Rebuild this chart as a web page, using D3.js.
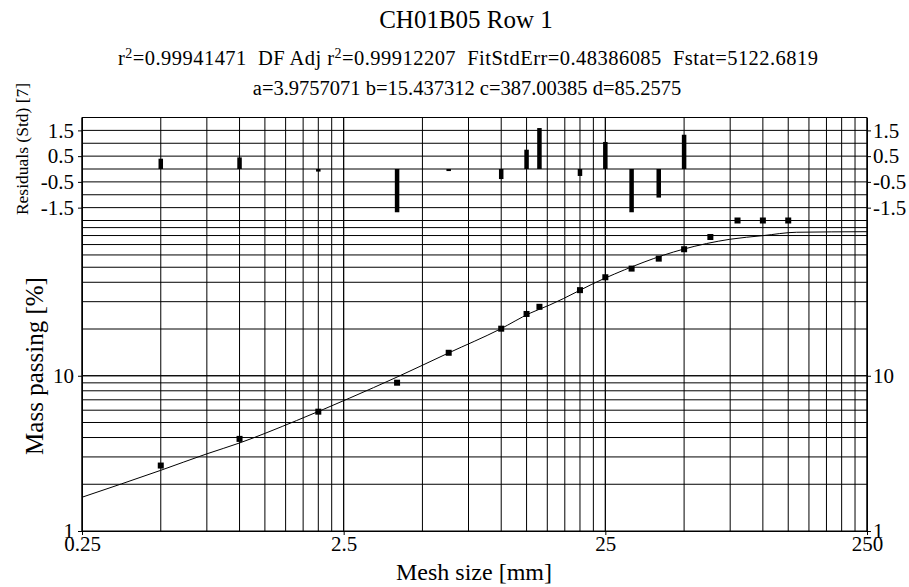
<!DOCTYPE html>
<html>
<head>
<meta charset="utf-8">
<script src="https://cdn.jsdelivr.net/npm/d3@7"></script>
<style>
  html, body { margin: 0; padding: 0; background: #fff; }
  svg { display: block; }
  text { font-family: "Liberation Serif", "Times New Roman", "DejaVu Serif", serif; fill: #000; white-space: pre; }
</style>
</head>
<body>
<svg id="chart" width="909" height="587"></svg>
<script>
// ---- data ----
const meshSize = [0.5, 1, 2, 4, 6.3, 10, 12.5, 14, 20, 25, 31.5, 40, 50, 63, 80, 100, 125];
const massPassing = [2.64, 3.92, 5.87, 9.02, 14.06, 20.1, 25.0, 27.8, 35.6, 43.1, 49.0, 56.8, 65.3, 78.3, 100, 100, 100];
const residuals = [0.40, 0.45, -0.10, -1.68, -0.08, -0.39, 0.75, 1.59, -0.27, 1.05, -1.68, -1.11, 1.33, null, null, null, null];
const fitX = [0.25, 0.5, 0.75, 1.0, 1.65, 2.64, 4.0, 6.28, 9.9, 12.9, 15.35, 24.9, 49.6, 74.8, 100, 134.5, 250];
const fitY = [1.65, 2.46, 3.14, 3.69, 5.14, 7.19, 9.81, 14.0, 19.96, 25.3, 28.6, 42.5, 65.3, 75.7, 79.9, 84.0, 84.7];
const xTickLabels = [0.25, 2.5, 25, 250];
const yMainTickLabels = [1, 10];
const yResTickLabels = [1.5, 0.5, -0.5, -1.5];
const titleText = "CH01B05 Row 1";
const statsLine = [["r", "2", "=0.99941471  DF Adj r"], ["", "2", "=0.99912207  FitStdErr=0.48386085  Fstat=5122.6819"]];
const paramLine = "a=3.9757071 b=15.437312 c=387.00385 d=85.2575";

// ---- layout ----
const svg = d3.select("#chart");
const left = 82, right = 867, resTop = 117.5, mainTop = 220.5, bottom = 531;

const x = d3.scaleLog().domain([0.25, 250]).range([left, right]);
const yMain = d3.scaleLog().domain([1, 100]).range([bottom, mainTop]);
const yRes = d3.scaleLinear().domain([-2, 2]).range([mainTop, resTop]);

const font = '"Liberation Serif", "Times New Roman", "DejaVu Serif", serif';
const tickFont = 21;
const resFmt = d => d.toFixed(1);   // plain hyphen-minus like the reference

// grid lines
const vGrid = [];
[0.25, 2.5, 25].forEach(b => { for (let k = 1; k <= 10; k++) vGrid.push(b * k); });
const hMain = [];
[1, 10].forEach(b => { for (let k = 1; k <= 10; k++) hMain.push(b * k); });
const hRes = d3.range(-2, 2.01, 0.5);

const grid = svg.append("g").attr("stroke", "#000").attr("stroke-width", 1).attr("fill", "none");
grid.selectAll("line.v").data(vGrid).join("line")
  .attr("x1", d => x(d)).attr("x2", d => x(d)).attr("y1", resTop).attr("y2", bottom);
grid.selectAll("line.hm").data(hMain).join("line")
  .attr("x1", left).attr("x2", right).attr("y1", d => yMain(d)).attr("y2", d => yMain(d));
grid.selectAll("line.hr").data(hRes).join("line")
  .attr("x1", left).attr("x2", right).attr("y1", d => yRes(d)).attr("y2", d => yRes(d));

// axes
function styleAxis(g) {
  g.attr("font-family", null).attr("font-size", null);
  g.selectAll("text").attr("font-family", font).attr("font-size", tickFont).attr("fill", "#000");
  g.selectAll("line").attr("stroke", "#000");
  g.select(".domain").attr("stroke", "#000");
}
svg.append("g").attr("transform", `translate(${left},0)`)
  .call(d3.axisLeft(yMain).tickValues(yMainTickLabels).tickFormat(d => String(d)).tickSize(4).tickSizeOuter(0).tickPadding(4))
  .call(styleAxis);
svg.append("g").attr("transform", `translate(${left},0)`)
  .call(d3.axisLeft(yRes).tickValues(yResTickLabels).tickFormat(resFmt).tickSize(4).tickSizeOuter(0).tickPadding(4))
  .call(styleAxis);
svg.append("g").attr("transform", `translate(${right},0)`)
  .call(d3.axisRight(yMain).tickValues(yMainTickLabels).tickFormat(d => String(d)).tickSize(4).tickSizeOuter(0).tickPadding(2))
  .call(styleAxis);
svg.append("g").attr("transform", `translate(${right},0)`)
  .call(d3.axisRight(yRes).tickValues(yResTickLabels).tickFormat(resFmt).tickSize(4).tickSizeOuter(0).tickPadding(2))
  .call(styleAxis);
const xAxisG = svg.append("g").attr("transform", `translate(0,${bottom})`)
  .call(d3.axisBottom(x).tickValues(xTickLabels).tickFormat(d => String(d)).tickSize(4).tickSizeOuter(0).tickPadding(0))
  .call(styleAxis);
xAxisG.selectAll("text").attr("dy", "0.74em");

// frame top/left/right
svg.append("line").attr("x1", left).attr("x2", right).attr("y1", resTop).attr("y2", resTop).attr("stroke", "#000");
svg.append("line").attr("x1", left).attr("x2", left).attr("y1", resTop).attr("y2", bottom).attr("stroke", "#000");
svg.append("line").attr("x1", right).attr("x2", right).attr("y1", resTop).attr("y2", bottom).attr("stroke", "#000");

// fitted curve
const fit = fitX.map((v, i) => [v, fitY[i]]);
svg.append("path").datum(fit)
  .attr("fill", "none").attr("stroke", "#000").attr("stroke-width", 1)
  .attr("d", d3.line().x(d => x(d[0])).y(d => yMain(d[1])).curve(d3.curveMonotoneX));

// data points
const pts = meshSize.map((v, i) => ({ x: v, y: massPassing[i], r: residuals[i] }));
svg.append("g").selectAll("rect").data(pts).join("rect")
  .attr("x", d => x(d.x) - 3).attr("y", d => yMain(d.y) - 3)
  .attr("width", 6).attr("height", 6).attr("fill", "#000");

// residual bars
svg.append("g").selectAll("rect").data(pts.filter(d => d.r !== null)).join("rect")
  .attr("x", d => x(d.x) - 2.25)
  .attr("y", d => Math.min(yRes(0), yRes(d.r)))
  .attr("width", 4.5)
  .attr("height", d => Math.max(2, Math.abs(yRes(d.r) - yRes(0))))
  .attr("fill", "#000");

// titles
svg.append("text").attr("x", 466).attr("y", 28).attr("text-anchor", "middle")
  .attr("font-size", 25).text(titleText);

const st = svg.append("text").attr("x", 468).attr("y", 65).attr("text-anchor", "middle")
  .attr("font-size", 20.5).attr("xml:space", "preserve")
  .attr("textLength", 700).attr("lengthAdjust", "spacing");
statsLine.forEach(seg => {
  if (seg[0]) st.append("tspan").text(seg[0]);
  st.append("tspan").attr("dy", -7).attr("font-size", 14).text(seg[1]);
  st.append("tspan").attr("dy", 7).text(seg[2]);
});

svg.append("text").attr("x", 467).attr("y", 95).attr("text-anchor", "middle")
  .attr("font-size", 20.5).text(paramLine);

// axis titles
svg.append("text").attr("transform", "translate(28,149) rotate(-90)").attr("text-anchor", "middle")
  .attr("font-size", 17.5).text("Residuals (Std) [7]");
svg.append("text").attr("transform", "translate(43,366) rotate(-90)").attr("text-anchor", "middle")
  .attr("font-size", 25).text("Mass passing [%]");
svg.append("text").attr("x", 474).attr("y", 580).attr("text-anchor", "middle")
  .attr("font-size", 24).text("Mesh size [mm]");
</script>
</body>
</html>
